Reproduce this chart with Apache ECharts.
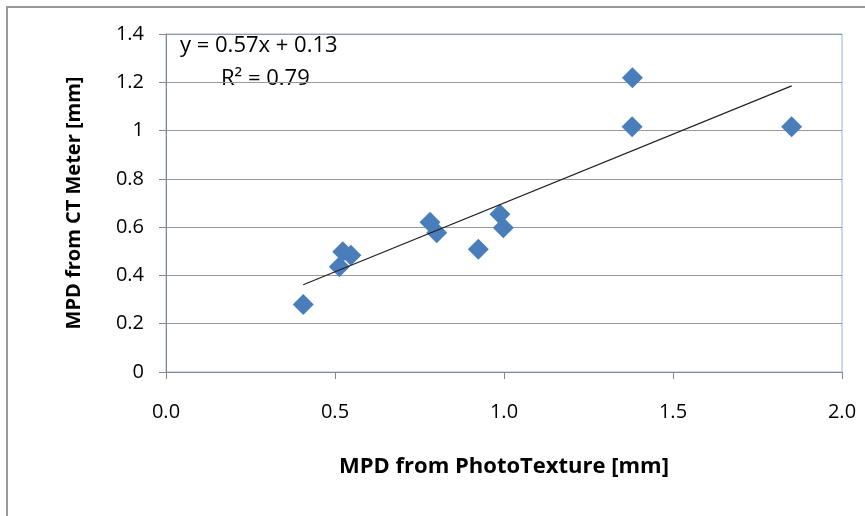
<!DOCTYPE html>
<html style="height: 100%">
<head>
  <meta charset="utf-8">
  <script src="https://cdn.jsdelivr.net/npm/echarts@6/dist/echarts.min.js"></script>
</head>
<body style="height: 100%; margin: 0; background: #fff">
  <div id="container" style="width: 865px; height: 516px"></div>
  <script type="text/javascript">
    // MPD from PhotoTexture vs MPD from CT Meter
    var photoTexture = [0.406, 0.513, 0.523, 0.547, 0.781, 0.801, 0.924, 0.988, 0.998, 1.380, 1.379, 1.851];
    var ctMeter      = [0.280, 0.436, 0.498, 0.484, 0.620, 0.577, 0.508, 0.653, 0.598, 1.219, 1.016, 1.016];
    var slope = 0.57, intercept = 0.13;
    var eqText = ['y = 0.57x + 0.13', 'R\u00b2 = 0.79'];

    var points = photoTexture.map(function (x, i) { return [x, ctMeter[i]]; });
    var xMin = Math.min.apply(null, photoTexture);
    var xMax = Math.max.apply(null, photoTexture);
    var trend = [[xMin, slope * xMin + intercept], [xMax, slope * xMax + intercept]];

    var font = 'Open Sans';
    var chart = echarts.init(document.getElementById('container'));
    var option = {
      animation: false,
      grid: { left: 166, right: 23, top: 34, bottom: 144, show: true, borderColor: '#8eb4e3', borderWidth: 1 },
      xAxis: {
        type: 'value', min: 0, max: 2, interval: 0.5,
        name: 'MPD from PhotoTexture [mm]', nameLocation: 'middle', nameGap: 84,
        nameTextStyle: { fontFamily: font, fontSize: 22, fontWeight: 'bold', color: '#000' },
        axisLine: { show: true, lineStyle: { color: '#888' } },
        axisTick: { show: true, length: 7, inside: false, lineStyle: { color: '#888' } },
        axisLabel: { fontFamily: font, fontSize: 20, color: '#000', margin: 30,
          formatter: function (v) { return v.toFixed(1); } },
        splitLine: { show: false }
      },
      yAxis: {
        type: 'value', min: 0, max: 1.4, interval: 0.2,
        name: 'MPD from CT Meter [mm]', nameLocation: 'middle', nameGap: 82,
        nameTextStyle: { fontFamily: font, fontSize: 20, fontWeight: 'bold', color: '#000' },
        axisLine: { show: true, lineStyle: { color: '#888' } },
        axisTick: { show: true, length: 7, inside: false, lineStyle: { color: '#888' } },
        axisLabel: { fontFamily: font, fontSize: 20, color: '#000', margin: 22 },
        splitLine: { show: true, lineStyle: { color: '#999', width: 1 } }
      },
      graphic: [
        { type: 'rect', shape: { x: 7, y: 7, width: 900, height: 600 },
          style: { fill: 'none', stroke: '#999', lineWidth: 2 }, silent: true },
        { type: 'text', left: 180, top: 35,
          style: { text: eqText[0], fontFamily: font, fontSize: 22, fill: '#000' } },
        { type: 'text', left: 221, top: 68,
          style: { text: eqText[1], fontFamily: font, fontSize: 22, fill: '#000' } }
      ],
      series: [
        { type: 'scatter', data: points, symbol: 'diamond', symbolSize: 21,
          itemStyle: { color: '#4a7ebb', opacity: 1 }, z: 3 },
        { type: 'line', data: trend, showSymbol: false, symbol: 'none',
          lineStyle: { color: '#222', width: 1.2 }, z: 4 }
      ]
    };
    chart.setOption(option);
  </script>
</body>
</html>
